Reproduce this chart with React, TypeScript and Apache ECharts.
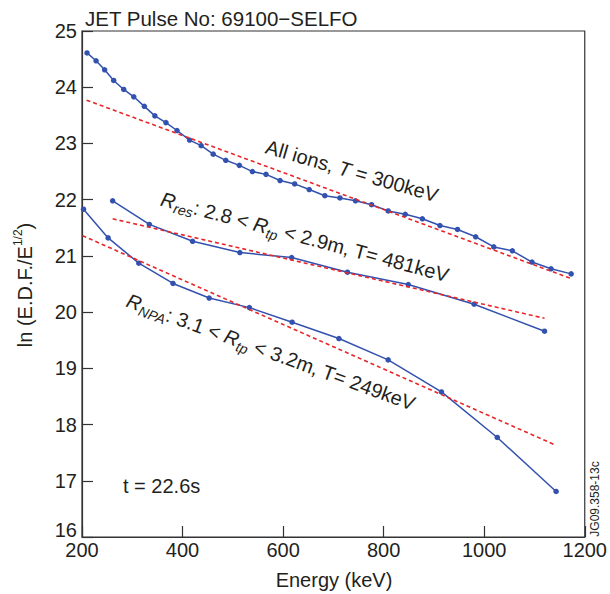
import React, { useEffect, useRef } from "react";
import * as echarts from "echarts";

// ---- data ----
const allE = [210, 228, 245, 263, 283, 303, 324, 345, 367, 389, 414, 437, 461, 486, 513, 539, 566, 594, 623, 652, 683, 713, 744, 776, 809, 843, 877, 912, 947, 983, 1019, 1056, 1095, 1133, 1173];
const allV = [24.61, 24.47, 24.31, 24.12, 23.96, 23.83, 23.66, 23.49, 23.37, 23.23, 23.06, 22.96, 22.81, 22.70, 22.61, 22.50, 22.45, 22.34, 22.28, 22.18, 22.07, 22.03, 21.98, 21.91, 21.80, 21.74, 21.66, 21.54, 21.47, 21.34, 21.16, 21.09, 20.89, 20.77, 20.68];

const resE = [261, 334, 420, 514, 617, 728, 849, 980, 1120];
const resV = [21.98, 21.56, 21.26, 21.06, 20.97, 20.71, 20.49, 20.14, 19.66];

const npaE = [203, 252, 313, 381, 453, 533, 618, 711, 809, 915, 1026, 1143];
const npaV = [21.83, 21.32, 20.87, 20.51, 20.25, 20.08, 19.82, 19.53, 19.15, 18.58, 17.77, 16.81];

const allFitE = [209, 1172];
const allFitV = [23.77, 20.6];
const resFitE = [261, 1120];
const resFitV = [21.66, 19.89];
const npaFitE = [201, 1143];
const npaFitV = [21.36, 17.63];

const xTicks = { min: 200, max: 1200, step: 200 };
const yTicks = { min: 16, max: 25, step: 1 };

const zip = (xs: number[], ys: number[]) => xs.map((x, i) => [x, ys[i]]);

const FONT = "'Liberation Sans', Arial, Helvetica, sans-serif";
const TXT = "#231f20";
const BLUE = "#3351ae";
const RED = "#e8262a";
const AX = "#333333";

const richBase = {
  n: { fontSize: 20, fontFamily: FONT, fill: TXT, lineHeight: 26 },
  i: { fontSize: 20, fontFamily: FONT, fill: TXT, fontStyle: "italic", lineHeight: 26 },
  s: { fontSize: 14, fontFamily: FONT, fill: TXT, fontStyle: "italic", lineHeight: 14, verticalAlign: "bottom" },
};

export default function App() {
  const ref = useRef<HTMLDivElement>(null);
  useEffect(() => {
    if (!ref.current) return;
    const chart = echarts.init(ref.current, null, { renderer: "svg" });
    const blueSeries = (name: string, xs: number[], ys: number[]) => ({
      name,
      type: "line",
      data: zip(xs, ys),
      symbol: "circle",
      symbolSize: 5.5,
      lineStyle: { color: BLUE, width: 1.5 },
      itemStyle: { color: BLUE },
      z: 3,
    });
    const fitSeries = (name: string, xs: number[], ys: number[]) => ({
      name,
      type: "line",
      data: zip(xs, ys),
      symbol: "none",
      lineStyle: { color: RED, width: 1.6, type: [4, 3] },
      z: 4,
    });
    chart.setOption({
      animation: false,
      backgroundColor: "#ffffff",
      grid: { left: 82, right: 24, top: 31, bottom: 57, show: true, borderColor: AX, borderWidth: 1.2 },
      xAxis: {
        type: "value",
        min: xTicks.min,
        max: xTicks.max,
        interval: xTicks.step,
        axisLine: { show: true, lineStyle: { color: AX, width: 1.2 } },
        axisTick: { show: true, inside: true, length: 11, lineStyle: { color: AX, width: 1.2 } },
        axisLabel: {
          fontSize: 20,
          color: TXT,
          fontFamily: FONT,
          margin: 3,
          showMinLabel: true,
          showMaxLabel: true,
          formatter: (v: number) => String(v),
        },
        splitLine: { show: false },
      },
      yAxis: {
        type: "value",
        min: yTicks.min,
        max: yTicks.max,
        interval: yTicks.step,
        axisLine: { show: true, lineStyle: { color: AX, width: 1.2 } },
        axisTick: { show: true, inside: true, length: 11, lineStyle: { color: AX, width: 1.2 } },
        axisLabel: {
          fontSize: 20,
          color: TXT,
          fontFamily: FONT,
          margin: 5,
          showMinLabel: true,
          showMaxLabel: true,
          formatter: (v: number) => (v === yTicks.min ? `{low|${v}}` : String(v)),
          rich: {
            low: { fontSize: 20, fontFamily: FONT, color: TXT, padding: [0, 0, 14, 0] },
          },
        },
        splitLine: { show: false },
      },
      series: [
        blueSeries("All ions", allE, allV),
        blueSeries("Rres", resE, resV),
        blueSeries("RNPA", npaE, npaV),
        fitSeries("All ions fit", allFitE, allFitV),
        fitSeries("Rres fit", resFitE, resFitV),
        fitSeries("RNPA fit", npaFitE, npaFitV),
      ],
      graphic: [
        {
          type: "text",
          x: 85,
          y: 18,
          style: { text: "JET Pulse No: 69100\u2212SELFO", fontSize: 20.5, fontFamily: FONT, fill: TXT, align: "left", verticalAlign: "middle" },
        },
        {
          type: "text",
          x: 25,
          y: 285,
          rotation: Math.PI / 2,
          style: {
            text: "{n|ln (E.D.F./E}{p|1/2}{n|)}",
            align: "center",
            verticalAlign: "middle",
            rich: {
              n: { fontSize: 20, fontFamily: FONT, fill: TXT, lineHeight: 26 },
              p: { fontSize: 12, fontFamily: FONT, fill: TXT, lineHeight: 16, verticalAlign: "top" },
            },
          },
        },
        {
          type: "text",
          x: 334,
          y: 580,
          style: { text: "Energy (keV)", fontSize: 20, fontFamily: FONT, fill: TXT, align: "center", verticalAlign: "middle" },
        },
        {
          type: "text",
          x: 123,
          y: 486,
          style: { text: "t = 22.6s", fontSize: 20, fontFamily: FONT, fill: TXT, align: "left", verticalAlign: "middle" },
        },
        {
          type: "text",
          x: 595,
          y: 499,
          rotation: Math.PI / 2,
          style: { text: "JG09.358-13c", fontSize: 12, fontFamily: FONT, fill: TXT, align: "center", verticalAlign: "middle" },
        },
        {
          type: "text",
          x: 352,
          y: 171,
          rotation: (-16 * Math.PI) / 180,
          style: {
            text: "{n|All ions, }{i|T}{n| = 300keV}",
            align: "center",
            verticalAlign: "middle",
            rich: richBase,
          },
        },
        {
          type: "text",
          x: 305,
          y: 237,
          rotation: (-15 * Math.PI) / 180,
          style: {
            text: "{i|R}{s|res}{n|: 2.8 < }{i|R}{s|tp}{n| < 2.9m, T= 481keV}",
            align: "center",
            verticalAlign: "middle",
            rich: richBase,
          },
        },
        {
          type: "text",
          x: 271,
          y: 352,
          rotation: (-20 * Math.PI) / 180,
          style: {
            text: "{i|R}{s|NPA}{n|: 3.1 < }{i|R}{s|tp}{n| < 3.2m, T= 249keV}",
            align: "center",
            verticalAlign: "middle",
            rich: richBase,
          },
        },
      ],
    });
    return () => chart.dispose();
  }, []);
  return <div ref={ref} style={{ width: 610, height: 594, position: "absolute", left: 0, top: 0 }} />;
}
